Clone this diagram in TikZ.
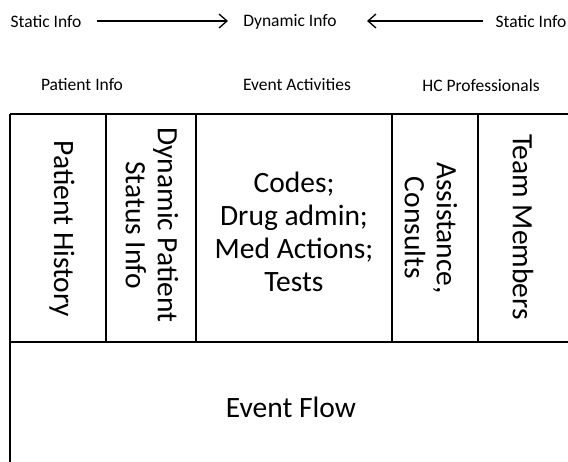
\documentclass[tikz,border=0pt]{standalone}
\usepackage{fontspec}
\setmainfont{Carlito}
\usetikzlibrary{arrows.meta}
\begin{document}
\begin{tikzpicture}[x=1pt,y=-1pt,
  hdr/.style={font=\fontsize{17.5}{21}\selectfont, inner sep=0pt},
  cell/.style={font=\fontsize{29.5}{32}\selectfont, align=center, inner sep=0pt},
  bigcell/.style={cell, font=\fontsize{29.5}{33}\selectfont},
  gridline/.style={line width=2.5pt},
  flow/.style={line width=1.3pt, -{Straight Barb[length=8pt,width=14pt]}}]
\useasboundingbox (0,0) rectangle (568,462);
\clip (0,0) rectangle (568,462);

% headings over the table
\node[hdr] (s1) at (46,22) {Static Info};
\node[hdr] (dyn) at (290,22) {Dynamic Info};
\node[hdr] (s2) at (531,22) {Static Info};
\coordinate (a1) at (97,21);
\coordinate (b1) at (228,21);
\coordinate (a2) at (483,21);
\coordinate (b2) at (367,21);
\draw[flow] (a1) -- (b1);
\draw[flow] (a2) -- (b2);

\node[hdr] (pi) at (82,85) {Patient Info};
\node[hdr] (ea) at (297,85) {Event Activities};
\node[hdr] (hc) at (481,85) {HC Professionals};

% table frame
\draw[gridline] (10,114) -- (580,114);
\draw[gridline] (10,342) -- (580,342);
\draw[gridline] (10,114) -- (10,480);
\foreach \xx in {106,196,392,478}
  \draw[gridline] (\xx,114) -- (\xx,342);

% cell texts
\node[cell, rotate=-90] (ph) at (62,229) {Patient History};
\node[cell, rotate=-90] (dp) at (152,225) {Dynamic Patient\\Status Info};
\node[bigcell] (ev) at (294,232) {Codes;\\Drug admin;\\Med Actions;\\Tests};
\node[cell, rotate=-90] (ac) at (431,228) {Assistance,\\Consults};
\node[cell, rotate=-90] (tm) at (523,227) {Team Members};
\node[cell] (ef) at (291,407) {Event Flow};
\end{tikzpicture}
\end{document}
